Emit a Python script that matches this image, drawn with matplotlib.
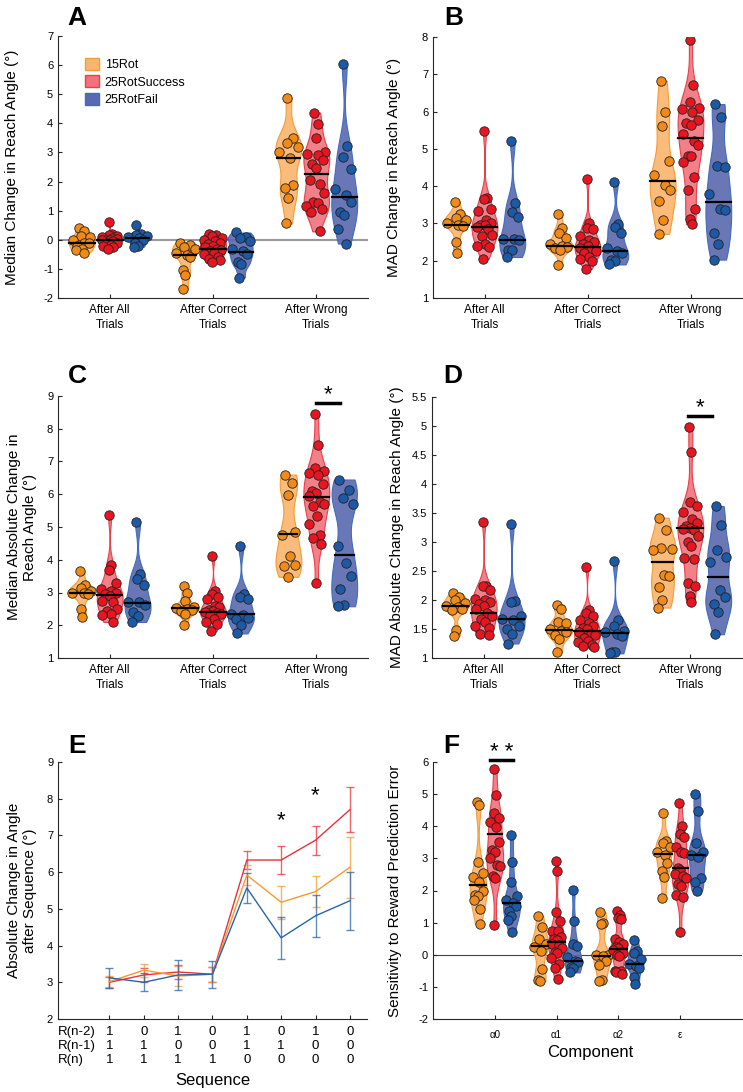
import numpy as np
import matplotlib.pyplot as plt
from matplotlib import mlab
from matplotlib.colors import to_rgba
from matplotlib.patches import Patch

plt.rcParams['font.family'] = ['Liberation Sans', 'DejaVu Sans']
plt.rcParams['axes.unicode_minus'] = False

# Categorias
cats_abcd = ['After All\nTrials', 'After Correct\nTrials', 'After Wrong\nTrials']
cats_f = ['α0', 'α1', 'α2', 'ε']
grupos = ['15Rot', '25RotSuccess', '25RotFail']

# Painel A - mediana da mudança no ângulo
a_15rot = [[0.42, 0.3, 0.12, 0.08, 0.0, -0.1, -0.12, -0.2, -0.3, -0.35, -0.45],
           [-0.1, -0.18, -0.25, -0.3, -0.45, -0.52, -0.6, -1.05, -1.2, -1.68],
           [4.88, 3.48, 3.32, 3.17, 3.0, 2.8, 1.87, 1.78, 1.45, 0.56]]
a_25succ = [[0.6, 0.2, 0.15, 0.12, 0.1, 0.05, 0.03, 0.0, 0.0, -0.02, -0.05, -0.1, -0.12, -0.18, -0.2, -0.25, -0.3],
            [0.2, 0.18, 0.12, 0.05, 0.0, -0.05, -0.1, -0.15, -0.2, -0.25, -0.3, -0.35, -0.4, -0.45, -0.5, -0.6, -0.65, -0.7, -0.78],
            [4.37, 3.96, 3.5, 3.0, 2.96, 2.9, 2.75, 2.6, 2.45, 2.05, 1.9, 1.62, 1.3, 1.25, 1.15, 1.05, 0.95, 0.29]]
a_25fail = [[0.5, 0.2, 0.15, 0.12, 0.1, 0.05, -0.02, -0.1, -0.2, -0.25],
            [0.25, 0.1, 0.05, -0.05, -0.32, -0.4, -0.5, -0.78, -0.82, -1.3],
            [6.03, 3.23, 2.85, 2.42, 1.73, 1.55, 1.3, 0.96, 0.85, 0.38, -0.13]]
a_med_15rot = [-0.12, -0.52, 2.8]
a_med_25succ = [0.0, -0.3, 2.25]
a_med_25fail = [0.05, -0.42, 1.48]

# Painel B - MAD da mudança
b_15rot = [[3.58, 3.25, 3.15, 3.1, 3.0, 2.95, 2.93, 2.5, 2.2],
           [3.25, 2.88, 2.75, 2.6, 2.45, 2.4, 2.38, 2.35, 2.3, 1.88],
           [6.83, 5.98, 5.6, 4.67, 4.3, 4.03, 3.9, 3.6, 3.1, 2.72]]
b_25succ = [[5.47, 3.67, 3.65, 3.4, 3.32, 3.1, 3.0, 2.97, 2.95, 2.9, 2.85, 2.68, 2.65, 2.45, 2.4, 2.38, 2.05],
            [4.2, 3.0, 2.88, 2.85, 2.65, 2.55, 2.5, 2.45, 2.4, 2.35, 2.3, 2.25, 2.2, 2.1, 2.05, 2.0, 1.78],
            [7.93, 6.7, 6.25, 6.1, 6.08, 5.98, 5.78, 5.7, 5.65, 5.4, 5.2, 5.1, 4.82, 4.8, 4.65, 4.25, 3.9, 3.38, 3.12, 2.98]]
b_25fail = [[5.22, 3.55, 3.3, 3.18, 2.58, 2.57, 2.55, 2.3, 2.28, 2.1],
            [4.12, 2.98, 2.9, 2.75, 2.33, 2.25, 2.2, 2.02, 1.98, 1.9],
            [6.2, 5.85, 4.55, 4.52, 3.78, 3.4, 3.35, 2.75, 2.45, 2.03]]
b_med_15rot = [2.97, 2.4, 4.15]
b_med_25succ = [2.9, 2.38, 5.3]
b_med_25fail = [2.55, 2.27, 3.57]

# Painel C - mediana da mudança absoluta
c_15rot = [[3.66, 3.24, 3.15, 3.05, 3.0, 2.97, 2.95, 2.5, 2.25],
           [3.2, 2.97, 2.75, 2.57, 2.53, 2.5, 2.48, 2.42, 2.35, 2.02],
           [6.6, 6.35, 5.98, 4.85, 4.75, 4.1, 3.85, 3.82, 3.48]]
c_25succ = [[5.37, 3.83, 3.7, 3.3, 3.1, 3.05, 3.0, 2.95, 2.9, 2.75, 2.7, 2.5, 2.45, 2.35, 2.3, 2.1],
            [4.12, 3.05, 2.95, 2.85, 2.8, 2.6, 2.55, 2.48, 2.42, 2.4, 2.38, 2.35, 2.3, 2.2, 2.1, 2.05, 1.82],
            [8.45, 7.5, 6.8, 6.7, 6.65, 6.6, 6.3, 6.1, 6.05, 5.95, 5.75, 5.7, 5.65, 5.35, 5.1, 4.75, 4.65, 4.48, 3.28]]
c_25fail = [[5.15, 3.55, 3.4, 3.22, 2.72, 2.7, 2.62, 2.4, 2.28, 2.1],
            [4.43, 2.95, 2.85, 2.8, 2.35, 2.3, 2.22, 2.18, 2.0, 1.75],
            [6.45, 6.12, 5.88, 5.7, 4.43, 3.9, 3.5, 3.1, 2.62, 2.58]]
c_med_15rot = [2.97, 2.52, 4.8]
c_med_25succ = [2.93, 2.4, 5.92]
c_med_25fail = [2.67, 2.33, 4.15]

# Painel D - MAD da mudança absoluta
d_15rot = [[2.12, 2.05, 2.0, 1.95, 1.9, 1.88, 1.85, 1.82, 1.48, 1.38],
           [1.92, 1.85, 1.62, 1.6, 1.5, 1.47, 1.45, 1.4, 1.32, 1.1],
           [3.42, 3.2, 2.9, 2.88, 2.87, 2.43, 2.42, 2.22, 2.0, 1.87]]
d_25succ = [[3.34, 2.25, 2.24, 2.18, 2.02, 2.0, 1.97, 1.93, 1.9, 1.85, 1.78, 1.72, 1.67, 1.62, 1.55, 1.52, 1.42, 1.39],
            [2.57, 1.83, 1.78, 1.72, 1.65, 1.6, 1.55, 1.52, 1.5, 1.45, 1.42, 1.4, 1.35, 1.3, 1.28, 1.22, 1.2, 1.19],
            [4.99, 4.56, 3.69, 3.62, 3.52, 3.4, 3.32, 3.28, 3.25, 3.22, 3.2, 3.1, 3.0, 2.93, 2.72, 2.7, 2.3, 2.25, 2.07, 1.96]]
d_25fail = [[3.31, 1.98, 1.97, 1.72, 1.68, 1.66, 1.55, 1.5, 1.42, 1.25],
            [2.67, 1.66, 1.55, 1.47, 1.45, 1.42, 1.38, 1.1, 1.1, 1.08],
            [3.62, 3.3, 2.87, 2.75, 2.65, 2.18, 2.05, 1.93, 1.8, 1.41]]
d_med_15rot = [1.89, 1.48, 2.65]
d_med_25succ = [1.78, 1.47, 3.24]
d_med_25fail = [1.67, 1.43, 2.4]

# Painel E - mudança absoluta após cada sequência
e_seq_n2 = [1, 0, 1, 0, 1, 0, 1, 0]
e_seq_n1 = [1, 1, 0, 0, 1, 1, 0, 0]
e_seq_n = [1, 1, 1, 1, 0, 0, 0, 0]
e_15rot = [3.02, 3.33, 3.17, 3.22, 5.92, 5.18, 5.47, 6.13]
e_15rot_err = [0.15, 0.18, 0.28, 0.2, 0.27, 0.45, 0.43, 0.84]
e_25succ = [3.0, 3.2, 3.28, 3.22, 6.33, 6.33, 6.87, 7.7]
e_25succ_err = [0.15, 0.18, 0.2, 0.2, 0.25, 0.38, 0.4, 0.62]
e_25fail = [3.12, 3.0, 3.2, 3.22, 5.57, 4.21, 4.81, 5.22]
e_25fail_err = [0.28, 0.25, 0.42, 0.37, 0.42, 0.57, 0.58, 0.79]

# Painel F - sensibilidade ao erro de predição
f_15rot = [[4.77, 4.65, 2.88, 2.55, 2.42, 2.25, 2.0, 1.85, 1.82, 1.7, 1.42, 0.97],
           [1.2, 0.85, 0.48, 0.35, 0.25, 0.12, -0.45, -0.78, -0.82],
           [1.33, 1.0, 0.97, 0.0, -0.02, -0.05, -0.18, -0.32, -0.78, -0.83],
           [4.4, 3.55, 3.48, 3.35, 3.2, 3.1, 2.85, 2.62, 2.42, 1.77]]
f_25succ = [[5.78, 4.98, 4.4, 4.25, 4.12, 3.98, 3.52, 3.25, 3.2, 3.0, 2.78, 2.75, 2.45, 2.4, 0.93],
            [2.93, 2.6, 1.32, 1.05, 0.75, 0.75, 0.55, 0.5, 0.45, 0.35, 0.3, 0.2, 0.1, 0.05, -0.1, -0.3, -0.4, -0.75],
            [1.35, 1.25, 1.15, 1.1, 0.5, 0.4, 0.32, 0.25, 0.2, 0.15, 0.1, 0.05, 0.0, -0.05, -0.5, -0.52, -0.55, -0.6],
            [4.72, 4.0, 3.75, 3.65, 3.35, 3.2, 3.18, 2.7, 2.65, 2.5, 2.45, 2.4, 2.2, 2.15, 1.85, 1.8, 0.7]]
f_25fail = [[3.72, 2.9, 2.27, 1.82, 1.7, 1.6, 1.52, 1.35, 1.2, 1.08, 0.7],
            [2.03, 1.05, 0.33, 0.27, -0.08, -0.2, -0.22, -0.38, -0.42, -0.55],
            [0.47, 0.12, 0.05, -0.12, -0.3, -0.35, -0.4, -0.7, -0.92],
            [5.0, 4.47, 3.47, 3.2, 3.1, 3.05, 2.4, 2.25, 2.0]]
f_med_15rot = [2.18, 0.27, -0.03, 3.15]
f_med_25succ = [3.75, 0.4, 0.17, 2.7]
f_med_25fail = [1.62, -0.2, -0.3, 3.1]

# Cores (preenchimento, borda, pontos)
cor_15 = ('#FBB46C', '#F39C38', '#F28A18')
cor_25s = ('#F2717B', '#E8404A', '#E8141F')
cor_25f = ('#5A68B0', '#3F6CC0', '#1C5AA8')
linha_15, linha_25s, linha_25f = '#F59A32', '#E8323C', '#2A64A8'

JIT = [-0.5, 0.4, -0.1, 0.75, -0.75, 0.15, 0.55, -0.35, 0.0, -0.6,
       0.3, 0.65, -0.25, 0.1, -0.8, 0.5, -0.45, 0.8, -0.15, 0.25]
BW = 0.4

fig = plt.figure(figsize=(7.43, 10.92), dpi=100)


def eixo(x0, y0, x1, y1):
    return fig.add_axes([x0 / 743, 1 - y1 / 1092, (x1 - x0) / 743, (y1 - y0) / 1092])


def estilo(ax):
    for s in ['top', 'right']:
        ax.spines[s].set_visible(False)
    for s in ['left', 'bottom']:
        ax.spines[s].set_color('#262626')
        ax.spines[s].set_linewidth(0.8)
    ax.tick_params(direction='in', length=3, width=0.8, labelsize=8, colors='#262626')
    for lb in ax.get_xticklabels() + ax.get_yticklabels():
        lb.set_color('black')


def violinos(ax, dados, medianas, desloc, cores, largura):
    fill, edge, dot = cores
    pos = [i + 1 + desloc for i in range(len(dados))]
    partes = ax.violinplot(dados, positions=pos, widths=largura, showextrema=False,
                           bw_method=BW, points=200)
    for corpo in partes['bodies']:
        corpo.set_alpha(None)
        corpo.set_facecolor(to_rgba(fill, 0.9))
        corpo.set_edgecolor(edge)
        corpo.set_linewidth(0.8)
        corpo.set_zorder(2)
    for p, vals, med in zip(pos, dados, medianas):
        kde = mlab.GaussianKDE(np.array(vals), BW)
        ys = np.linspace(min(vals), max(vals), 200)
        esc = 0.5 * largura / kde.evaluate(ys).max()
        meia = kde.evaluate(np.array(vals)) * esc
        xs = [p + JIT[k % len(JIT)] * max(m, 0.015) for k, m in enumerate(meia)]
        ax.scatter(xs, vals, s=46, c=dot, edgecolors='#222222', linewidths=0.6, zorder=3)
        mm = kde.evaluate(np.array([med]))[0] * esc
        ax.plot([p - mm, p + mm], [med, med], color='k', lw=1.6, zorder=4)


def painel_violino(ax, d15, d25s, d25f, m15, m25s, m25f, cats, largura):
    violinos(ax, d15, m15, -0.27, cor_15, largura)
    violinos(ax, d25s, m25s, 0.0, cor_25s, largura)
    violinos(ax, d25f, m25f, 0.27, cor_25f, largura)
    ax.set_xticks(range(1, len(cats) + 1))
    ax.set_xticklabels(cats, linespacing=1.35)
    estilo(ax)
    ax.tick_params(axis='x', labelsize=8.5, pad=4)


# ---------------------------------------------------------------------------
ax_a = eixo(58, 36, 368, 298)
ax_a.axhline(0, color='#999999', lw=1.5, zorder=1)
painel_violino(ax_a, a_15rot, a_25succ, a_25fail, a_med_15rot, a_med_25succ, a_med_25fail, cats_abcd, 0.25)
ax_a.set_xlim(0.5, 3.5)
ax_a.set_ylim(-2, 7)
ax_a.set_yticks(range(-2, 8))
ax_a.set_ylabel('Median Change in Reach Angle (°)', fontsize=11)
ax_a.yaxis.set_label_coords(-0.125, 0.5)
leg = [Patch(facecolor=c[0], edgecolor=c[1], label=g) for c, g in zip([cor_15, cor_25s, cor_25f], grupos)]
ax_a.legend(handles=leg, loc='upper left', bbox_to_anchor=(0.05, 0.96), frameon=False,
            fontsize=9, handlelength=1.1, handleheight=1.1, handletextpad=0.5, labelspacing=0.35)

ax_b = eixo(433, 37, 742, 298)
painel_violino(ax_b, b_15rot, b_25succ, b_25fail, b_med_15rot, b_med_25succ, b_med_25fail, cats_abcd, 0.25)
ax_b.set_xlim(0.5, 3.5)
ax_b.set_ylim(1, 8)
ax_b.set_yticks(range(1, 9))
ax_b.set_ylabel('MAD Change in Reach Angle (°)', fontsize=11)
ax_b.yaxis.set_label_coords(-0.104, 0.5)

ax_c = eixo(58, 396, 368, 658)
painel_violino(ax_c, c_15rot, c_25succ, c_25fail, c_med_15rot, c_med_25succ, c_med_25fail, cats_abcd, 0.25)
ax_c.set_xlim(0.5, 3.5)
ax_c.set_ylim(1, 9)
ax_c.set_yticks(range(1, 10))
ax_c.set_ylabel('Median Absolute Change in\nReach Angle (°)', fontsize=11)
ax_c.yaxis.set_label_coords(-0.068, 0.5)
ax_c.plot([3.0, 3.23], [8.79, 8.79], color='k', lw=2.5, clip_on=False)
ax_c.text(3.115, 8.86, '*', ha='center', va='baseline', fontsize=16)

ax_d = eixo(432, 397, 742, 658)
painel_violino(ax_d, d_15rot, d_25succ, d_25fail, d_med_15rot, d_med_25succ, d_med_25fail, cats_abcd, 0.25)
ax_d.set_xlim(0.5, 3.5)
ax_d.set_ylim(1, 5.5)
d_ticks = [1, 1.5, 2, 2.5, 3, 3.5, 4, 4.5, 5, 5.5]
ax_d.set_yticks(d_ticks)
ax_d.set_yticklabels(['%g' % t for t in d_ticks])
ax_d.set_ylabel('MAD Absolute Change in Reach Angle (°)', fontsize=11)
ax_d.yaxis.set_label_coords(-0.09, 0.5)
ax_d.plot([2.98, 3.21], [5.18, 5.18], color='k', lw=2.5, clip_on=False)
ax_d.text(3.095, 5.22, '*', ha='center', va='baseline', fontsize=16)

# ---------------------------------------------------------------------------
ax_e = eixo(58, 762, 367, 1019)
x_seq = np.arange(1, 9)
for y, err, cor in [(e_25succ, e_25succ_err, linha_25s), (e_15rot, e_15rot_err, linha_15),
                    (e_25fail, e_25fail_err, linha_25f)]:
    ax_e.errorbar(x_seq, y, yerr=err, color=cor, ecolor=to_rgba(cor, 0.75), lw=1.0,
                  elinewidth=1.0, capsize=3, capthick=1.0)
ax_e.text(6, 7.25, '*', ha='center', va='baseline', fontsize=16)
ax_e.text(7, 7.93, '*', ha='center', va='baseline', fontsize=16)
ax_e.set_xlim(-0.5, 8.5)
ax_e.set_ylim(2, 9)
ax_e.set_yticks(range(2, 10))
ax_e.set_xticks(x_seq)
ax_e.set_xticklabels(['%d\n%d\n%d' % t for t in zip(e_seq_n2, e_seq_n1, e_seq_n)])
estilo(ax_e)
ax_e.tick_params(axis='x', labelsize=9.5, pad=5)
ax_e.annotate('R(n-2)\nR(n-1)\nR(n)', xy=(-0.5, 0), xycoords=('data', 'axes fraction'),
              xytext=(0, -5), textcoords='offset points', ha='left', va='top', fontsize=9.5)
ax_e.set_ylabel('Absolute Change in Angle\nafter Sequence (°)', fontsize=11)
ax_e.yaxis.set_label_coords(-0.068, 0.5)
fig.text(213 / 743, 1 - 1080 / 1092, 'Sequence', ha='center', va='center', fontsize=12)

ax_f = eixo(433, 762, 742, 1019)
ax_f.axhline(0, color='#444444', lw=0.8, zorder=1)
painel_violino(ax_f, f_15rot, f_25succ, f_25fail, f_med_15rot, f_med_25succ, f_med_25fail, cats_f, 0.27)
ax_f.set_xlim(0, 5)
ax_f.set_ylim(-2, 6)
ax_f.set_yticks(range(-2, 7))
ax_f.tick_params(axis='x', labelsize=7, pad=8)
ax_f.set_ylabel('Sensitivity to Reward Prediction Error', fontsize=11)
ax_f.yaxis.set_label_coords(-0.1, 0.5)
ax_f.plot([0.92, 1.3], [6.07, 6.07], color='k', lw=2.5, clip_on=False)
ax_f.text(1.11, 6.12, '* *', ha='center', va='baseline', fontsize=16)
fig.text(590 / 743, 1 - 1052 / 1092, 'Component', ha='center', va='center', fontsize=12)

# Letras dos painéis
for letra, x, y in [('A', 67, 25), ('B', 444, 25), ('C', 68, 383), ('D', 443, 383),
                    ('E', 68, 753), ('F', 443, 753)]:
    fig.text(x / 743, 1 - y / 1092, letra, fontsize=19, fontweight='bold', va='baseline')

fig.savefig('out.png', dpi=100)
